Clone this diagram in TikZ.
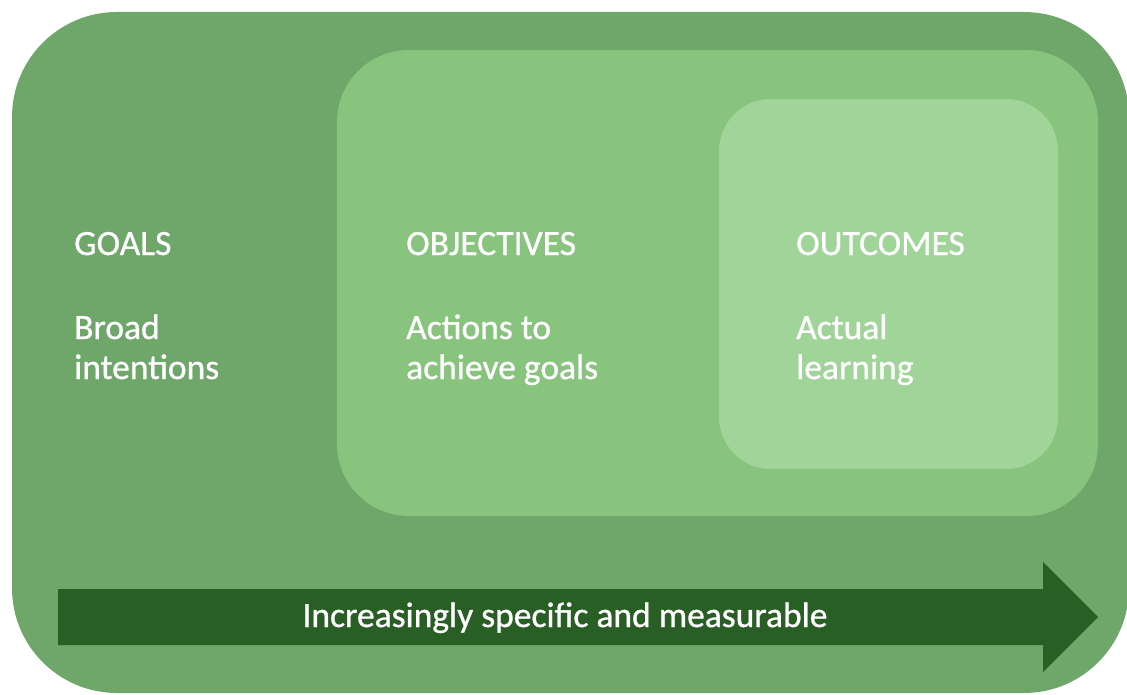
\documentclass[tikz,border=0pt]{standalone}
\usepackage{fontspec}
\setmainfont{Carlito}[FakeBold=0.8]
\definecolor{outerG}{HTML}{6FA66A}
\definecolor{midG}{HTML}{88C47E}
\definecolor{innerG}{HTML}{A0D498}
\definecolor{arrowG}{HTML}{295E24}
\begin{document}
\begin{tikzpicture}[x=1pt,y=-1pt,
  lbl/.style={anchor=base west,inner sep=0pt,text=white,font=\fontsize{35.5}{40}\selectfont}]
\useasboundingbox (0,0) rectangle (1127,695);
\fill[outerG,rounded corners=105pt] (12,12) rectangle (1129,693);
\fill[midG,rounded corners=72pt] (337,50) rectangle (1098,516);
\fill[innerG,rounded corners=52pt] (719,99) rectangle (1058,469);
\fill[arrowG] (58,589) -- (1043,589) -- (1043,562) -- (1098,617) -- (1043,672) -- (1043,645) -- (58,645) -- cycle;
\node[lbl] (goals) at (74,255) {GOALS};
\node[lbl] (goals1) at (74,339) {Broad};
\node[lbl] (goals2) at (74,379) {intentions};
\node[lbl] (obj) at (406,255) {OBJECTIVES};
\node[lbl] (obj1) at (406,339) {Actions to};
\node[lbl] (obj2) at (406,379) {achieve goals};
\node[lbl] (out) at (796,255) {OUTCOMES};
\node[lbl] (out1) at (796,339) {Actual};
\node[lbl] (out2) at (796,379) {learning};
\node[lbl,anchor=base] (arr) at (565,627) {Increasingly specific and measurable};
\end{tikzpicture}
\end{document}
